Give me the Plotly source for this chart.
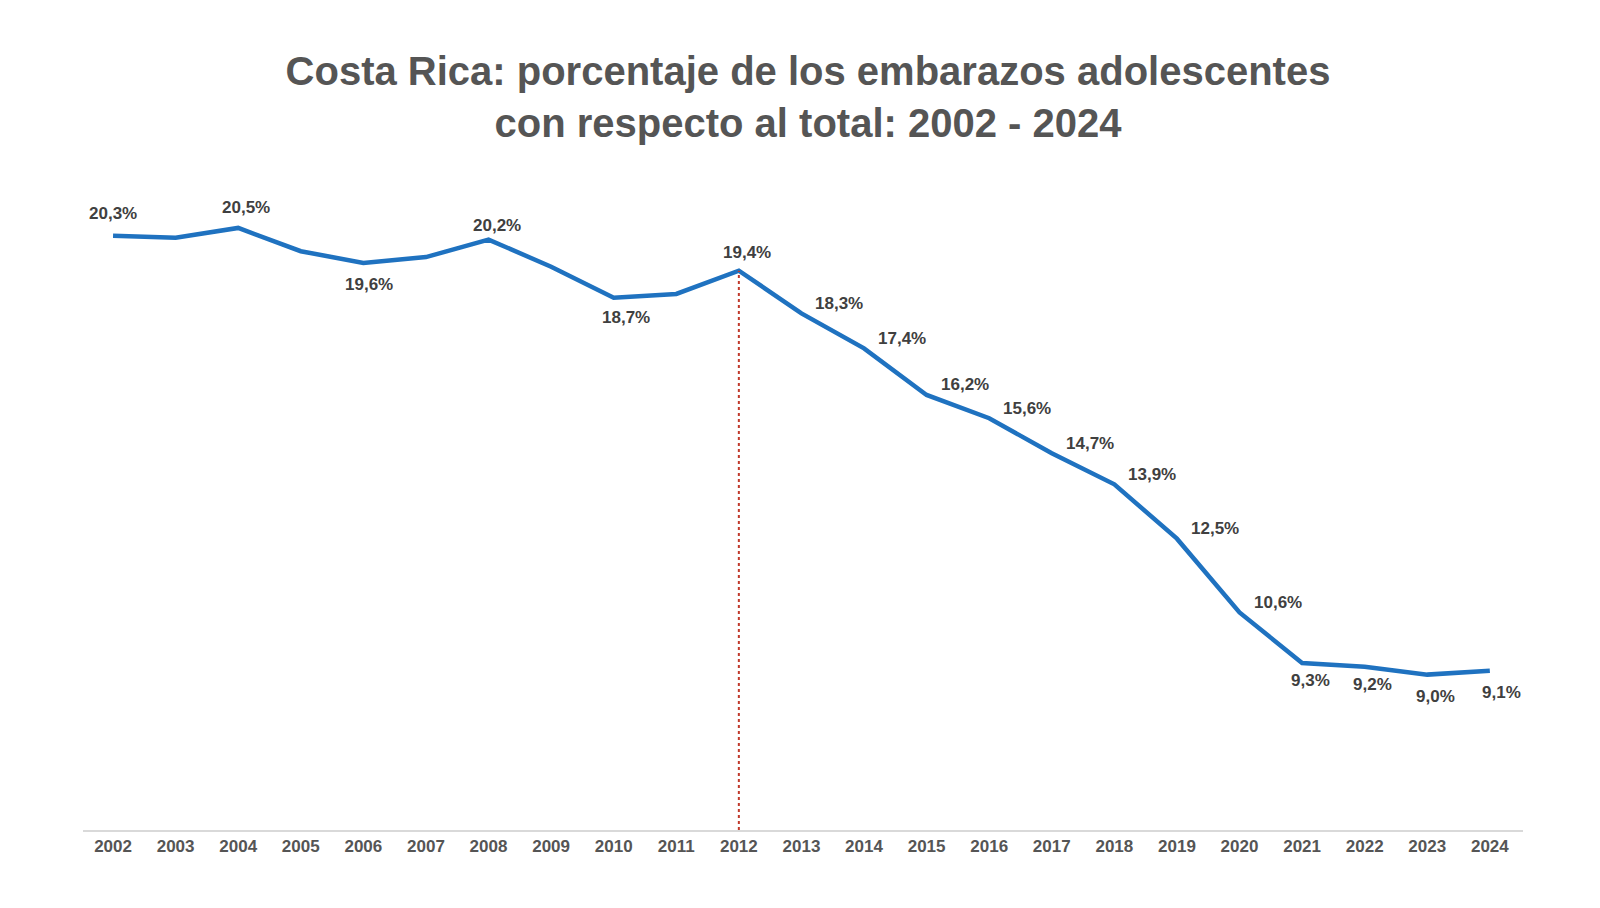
import plotly.graph_objects as go

years = list(range(2002, 2025))
values = [20.3, 20.25, 20.5, 19.9, 19.6, 19.75, 20.2, 19.5, 18.7, 18.8, 19.4,
          18.3, 17.4, 16.2, 15.6, 14.7, 13.9, 12.5, 10.6, 9.3, 9.2, 9.0, 9.1]
labeled = {2002, 2004, 2006, 2008, 2010, 2012, 2013, 2014, 2015, 2016, 2017,
           2018, 2019, 2020, 2021, 2022, 2023, 2024}
# (xshift, yshift) offsets in px
offsets = {2002: (0, 22), 2004: (8, 20), 2006: (6, -22), 2008: (8, 14), 2010: (12, -20),
           2012: (8, 18), 2021: (8, -18), 2022: (8, -18), 2023: (8, -22),
           2024: (12, -22)}

fig = go.Figure()
fig.add_trace(go.Scatter(
    x=years, y=values, mode="lines",
    line=dict(color="#1f72c0", width=4.5), showlegend=False))
for y, v in zip(years, values):
    if y not in labeled:
        continue
    xs, ys = offsets.get(y, (38, 10))
    fig.add_annotation(x=y, y=v, text=f"{v:.1f}%".replace(".", ","), showarrow=False,
                       xshift=xs, yshift=ys,
                       font=dict(family="Liberation Sans", size=17, color="#404040", weight="bold"))
fig.add_shape(type="line", x0=2012, x1=2012, y0=5, y1=values[years.index(2012)],
              line=dict(color="#c0392b", width=2, dash="dot"))
fig.update_layout(
    width=1600, height=908, plot_bgcolor="white", paper_bgcolor="white",
    margin=dict(l=75, r=85, t=150, b=86),
    title=dict(text="<b>Costa Rica: porcentaje de los embarazos adolescentes<br>con respecto al total: 2002 - 2024</b>",
               x=0.5, xanchor="center", y=0.915, yanchor="middle",
               font=dict(family="Liberation Sans", size=40, color="#555555")),
    xaxis=dict(range=[2001.52, 2024.53], tickmode="array", tickvals=years,
               ticktext=[str(y) for y in years], showgrid=False, showline=True,
               linecolor="#d9d9d9", linewidth=1.5, ticks="",
               tickfont=dict(family="Liberation Sans", size=17, color="#555555", weight="bold")),
    yaxis=dict(range=[5, 22.3], visible=False),
)
fig.write_html("out.html")
